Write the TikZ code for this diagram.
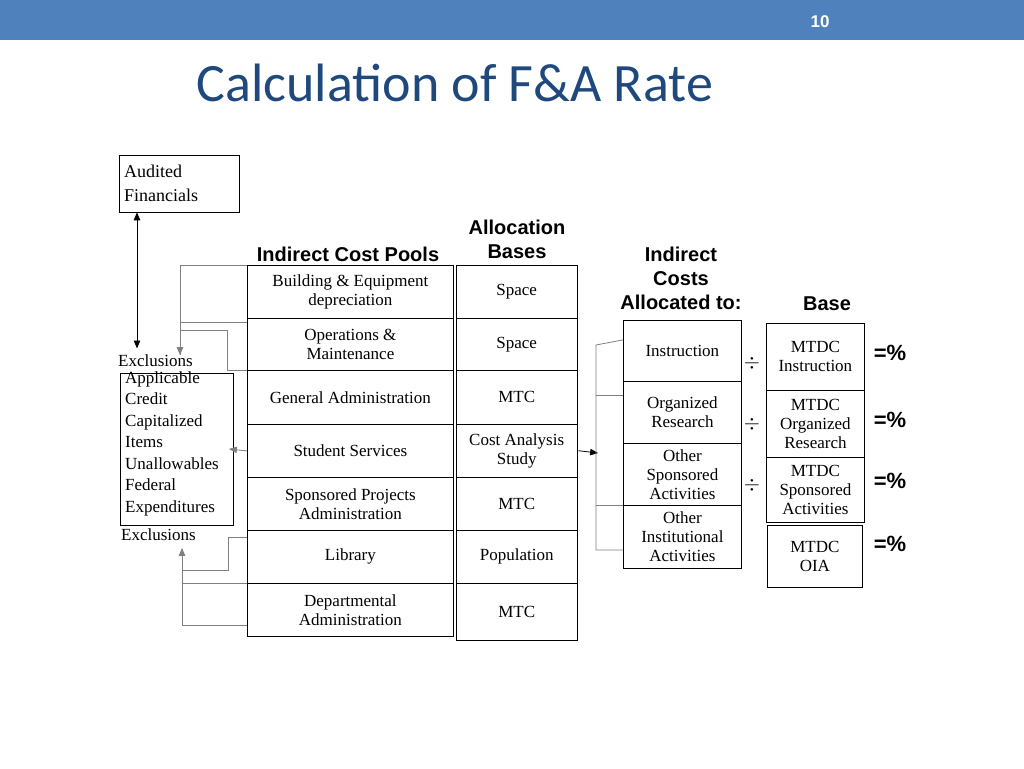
\documentclass[tikz,border=0pt]{standalone}
\usepackage{fontspec}
\setmainfont{Liberation Serif}
\newfontfamily\headfont{Liberation Sans}
\newfontfamily\titlefont{Carlito}
\usetikzlibrary{arrows}
\definecolor{barblue}{RGB}{79,129,189}
\definecolor{titleblue}{RGB}{31,73,125}
\tikzset{
  cell/.style={draw=black, thick, anchor=north west, inner sep=0pt, font=\fontsize{17}{19}\selectfont, align=center},
  head/.style={font=\headfont\bfseries\fontsize{20}{24}\selectfont, align=center, inner sep=0pt},
  link/.style={draw=gray, thick},
  arrow/.style={thick,->,>=triangle 45}
}
\begin{document}
\begin{tikzpicture}[x=1pt,y=-1pt]
    \useasboundingbox (0,0) rectangle (1024,768);
    \fill[barblue] (0,0) rectangle (1024,40);
    \node[text=white, font=\headfont\bfseries\fontsize{17}{20}\selectfont] (pagenum) at (820,22) {10};
    \node[text=titleblue, font=\titlefont\fontsize{54}{60}\selectfont] (title) at (455,83) {Calculation of F\&A Rate};

    % source box
    \node (audited) [draw=black, thin, anchor=north west, minimum width=120, minimum height=57, align=left, font=\fontsize{18}{24}\selectfont, text width=110] at (119,155) {Audited\\Financials};

    % headings
    \node (poolhead) [head] at (348,254) {Indirect Cost Pools};
    \node (basehead) [head] at (517,239) {Allocation\\Bases};
    \node (allochead) [head] at (681,278) {Indirect\\Costs\\Allocated to:};
    \node (mtdchead) [head] at (827,304) {Base};

    % cost pools
    \node (p1) [cell, minimum width=206, minimum height=53] at (247,265) {Building \& Equipment\\depreciation};
    \node (p2) [cell, minimum width=206, minimum height=52] at (247,318) {Operations \&\\Maintenance};
    \node (p3) [cell, minimum width=206, minimum height=54] at (247,370) {General Administration};
    \node (p4) [cell, minimum width=206, minimum height=53] at (247,424) {Student Services};
    \node (p5) [cell, minimum width=206, minimum height=53] at (247,477) {Sponsored Projects\\Administration};
    \node (p6) [cell, minimum width=206, minimum height=53] at (247,530) {Library};
    \node (p7) [cell, minimum width=206, minimum height=53] at (247,583) {Departmental\\Administration};

    % allocation bases
    \node (b1) [cell, thin, minimum width=121, minimum height=53] at (456,265) {Space};
    \node (b2) [cell, thin, minimum width=121, minimum height=52] at (456,318) {Space};
    \node (b3) [cell, thin, minimum width=121, minimum height=54] at (456,370) {MTC};
    \node (b4) [cell, thin, minimum width=121, minimum height=53] at (456,424) {Cost Analysis\\Study};
    \node (b5) [cell, thin, minimum width=121, minimum height=53] at (456,477) {MTC};
    \node (b6) [cell, thin, minimum width=121, minimum height=53] at (456,530) {Population};
    \node (b7) [cell, thin, minimum width=121, minimum height=57] at (456,583) {MTC};

    % allocated to
    \node (a1) [cell, minimum width=118, minimum height=61] at (623,320) {Instruction};
    \node (a2) [cell, minimum width=118, minimum height=62] at (623,381) {Organized\\Research};
    \node (a3) [cell, minimum width=118, minimum height=62] at (623,443) {Other\\Sponsored\\Activities};
    \node (a4) [cell, minimum width=118, minimum height=63] at (623,505) {Other\\Institutional\\Activities};

    % bases
    \node (m1) [cell, minimum width=98, minimum height=67] at (766,323) {MTDC\\Instruction};
    \node (m2) [cell, minimum width=98, minimum height=67] at (766,390) {MTDC\\Organized\\Research};
    \node (m3) [cell, minimum width=98, minimum height=65] at (766,457) {MTDC\\Sponsored\\Activities};
    \node (m4) [cell, minimum width=95, minimum height=62] at (767,525) {MTDC\\OIA};

    % operators
    \foreach \i/\y in {1/363,2/424,3/485} {
        \node (div\i) [font=\fontsize{22}{24}\selectfont] at (752,\y) {$\div$};
    }
    \foreach \i/\y in {1/353,2/420,3/481,4/544} {
        \node (eq\i) [font=\headfont\bfseries\fontsize{22}{24}\selectfont] at (890,\y) {=\%};
    }

    % exclusions
    \node (exctop) [anchor=west, inner sep=0pt, font=\fontsize{17}{19}\selectfont] at (118,361) {Exclusions};
    \node (excl) [draw=black, thin, anchor=north west, minimum width=113, minimum height=152, inner sep=0pt] at (120,373) {};
    \node (excltext) [anchor=north west, align=left, inner sep=0pt, font=\fontsize{17}{21.5}\selectfont] at (125,371) {Applicable\\Credit\\Capitalized\\Items\\Unallowables\\Federal\\Expenditures};
    \node (excbot) [anchor=west, inner sep=0pt, font=\fontsize{17}{19}\selectfont] at (121,535) {Exclusions};

    % connectors
    \coordinate (topin) at (180,355);
    \coordinate (botin) at (182,548);
    \draw [thick,<->,>=triangle 45] (audited.south west) ++(18,0) -- ++(0,136);
    \draw [link] (p1.north west) -- ++(-67,0) -- (topin);
    \draw [link,arrow] (180,290) -- (topin);
    \draw [link] (p2.north west) ++(0,4) -- ++(-67,0);
    \draw [link] (180,330) -- (227,330) |- (p2.south west);
    \draw [link,arrow] (p4.west) -- (229,449);
    \draw [link] (p6.north west) ++(0,7) -- ++(-19,0) |- (182,570);
    \draw [link] (p6.south west) -- ++(-65,0);
    \draw [link] (p7.south west) ++(0,-11) -- ++(-65,0) -- (182,570);
    \draw [link,arrow] (182,570) -- (botin);
    \draw [thick,->,>=triangle 45] (b4.east) ++(1,0) -- (598,453);
    \draw [link] (a1.west) ++(0,-11) -- (596,345) -- (596,550) -- (a4.west |- 0,550);
    \draw [link] (596,395) -- (a2.west |- 0,395);
    \draw [link] (596,505) -- (a4.north west);
\end{tikzpicture}
\end{document}
